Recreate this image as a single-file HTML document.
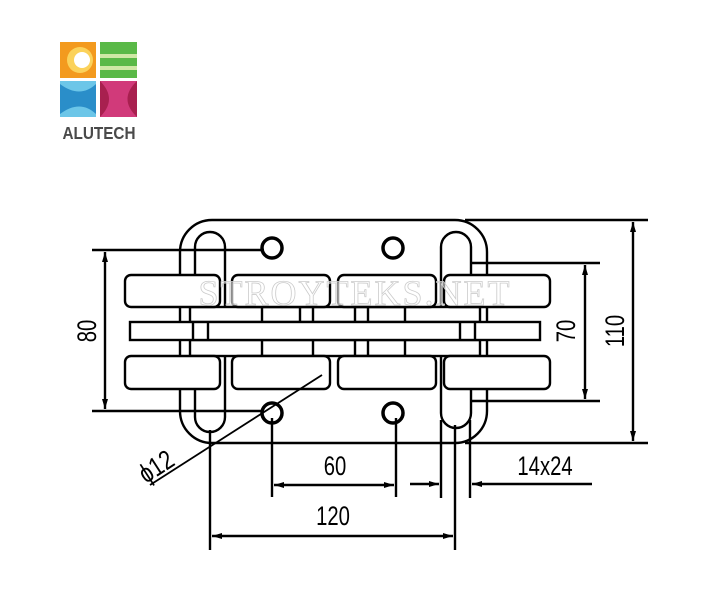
<!DOCTYPE html><html><head><style>body{margin:0;background:#fff}svg{display:block}</style></head><body>
<svg width="710" height="592" viewBox="0 0 710 592" xmlns="http://www.w3.org/2000/svg">
<defs><marker id="a" viewBox="0 0 10 6" refX="10" refY="3" markerWidth="11" markerHeight="6" orient="auto-start-reverse" markerUnits="userSpaceOnUse"><path d="M0,0L10,3L0,6z" fill="#000"/></marker></defs>
<!-- logo -->
<rect x="60" y="42" width="36" height="36" fill="#f39a1e"/>
<circle cx="80" cy="60" r="13" fill="#fbd25a"/><circle cx="82" cy="60" r="8" fill="#fff"/>
<rect x="100" y="42" width="37" height="36" fill="#5ab947"/>
<rect x="100" y="54" width="37" height="4" fill="#cfe8a5"/><rect x="100" y="66" width="37" height="4" fill="#cfe8a5"/>
<rect x="60" y="81" width="36" height="36" fill="#6cc6e8"/>
<path d="M60,84 Q80,99 96,84 L96,114 Q80,99 60,114z" fill="#2a8ec9"/>
<rect x="100" y="81" width="37" height="36" fill="#d13a7a"/>
<path d="M100,81 Q118,99 100,117z M137,81 Q118,99 137,117z" fill="#a8204f"/>
<text x="99" y="139" text-anchor="middle" font-family="Liberation Sans,sans-serif" font-size="18" font-weight="bold" fill="#4a4a4a" transform="translate(99 0) scale(0.85 1) translate(-99 0)">ALUTECH</text>
<g fill="none" stroke="#000" stroke-width="2.4">
<rect x="180" y="220" width="307" height="223" rx="32"/>
<line x1="465" y1="220" x2="648" y2="220"/><line x1="465" y1="443" x2="648" y2="443"/>
<line x1="633" y1="222" x2="633" y2="441" marker-start="url(#a)" marker-end="url(#a)"/>
<line x1="92" y1="250" x2="264" y2="250"/><line x1="92" y1="411" x2="264" y2="411"/>
<line x1="105" y1="252" x2="105" y2="409" marker-start="url(#a)" marker-end="url(#a)"/>
<line x1="470" y1="263" x2="600" y2="263"/><line x1="470" y1="401" x2="600" y2="401"/>
<line x1="585" y1="265" x2="585" y2="399" marker-start="url(#a)" marker-end="url(#a)"/>
<rect x="195" y="232" width="30" height="200" rx="15"/>
<rect x="441" y="232" width="30" height="196" rx="15"/>
<circle cx="272" cy="248" r="10" stroke-width="3.5"/><circle cx="393" cy="248" r="10" stroke-width="3.5"/>
<circle cx="272" cy="413" r="10" stroke-width="3.5"/><circle cx="393" cy="413" r="10" stroke-width="3.5"/>
<rect x="190" y="307" width="290" height="15" fill="#fff"/>
<rect x="190" y="340" width="290" height="16" fill="#fff"/>
<line x1="262" y1="307" x2="262" y2="356"/><line x1="300" y1="307" x2="300" y2="322"/><line x1="313" y1="307" x2="313" y2="356"/><line x1="355" y1="307" x2="355" y2="356"/><line x1="368" y1="307" x2="368" y2="356"/><line x1="405" y1="307" x2="405" y2="356"/>
<rect x="130" y="322" width="410" height="18" fill="#fff"/>
<line x1="193" y1="322" x2="193" y2="340"/><line x1="208" y1="322" x2="208" y2="340"/>
<line x1="460" y1="322" x2="460" y2="340"/><line x1="475" y1="322" x2="475" y2="340"/>
<g fill="#fff">
<rect x="125" y="275" width="95" height="32" rx="6"/><rect x="232" y="275" width="98" height="32" rx="6"/><rect x="338" y="275" width="98" height="32" rx="6"/><rect x="444" y="275" width="106" height="32" rx="6"/>
<rect x="125" y="356" width="95" height="33" rx="6"/><rect x="232" y="356" width="98" height="33" rx="6"/><rect x="338" y="356" width="98" height="33" rx="6"/><rect x="444" y="356" width="106" height="33" rx="6"/>
</g>
<line x1="272" y1="418" x2="272" y2="497"/><line x1="396" y1="418" x2="396" y2="497"/>
<line x1="274" y1="485" x2="394" y2="485" marker-start="url(#a)" marker-end="url(#a)"/>
<line x1="441" y1="420" x2="441" y2="498"/><line x1="470" y1="420" x2="470" y2="498"/>
<line x1="410" y1="484" x2="439" y2="484" marker-end="url(#a)"/>
<line x1="592" y1="484" x2="472" y2="484" marker-end="url(#a)"/>
<line x1="210" y1="430" x2="210" y2="550"/><line x1="455" y1="425" x2="455" y2="550"/>
<line x1="212" y1="536" x2="453" y2="536" marker-start="url(#a)" marker-end="url(#a)"/>
<line x1="150" y1="485" x2="322" y2="375" stroke-width="1.8"/>
</g>
<g font-family="Liberation Sans,sans-serif" font-size="27" fill="#000">
<text transform="translate(96 331) rotate(-90) scale(0.75 1)" text-anchor="middle">80</text>
<text transform="translate(575 331) rotate(-90) scale(0.75 1)" text-anchor="middle">70</text>
<text transform="translate(624 331) rotate(-90) scale(0.75 1)" text-anchor="middle">110</text>
<text transform="translate(335 475) scale(0.75 1)" text-anchor="middle">60</text>
<text transform="translate(545 475) scale(0.75 1)" text-anchor="middle">14x24</text>
<text transform="translate(333 525) scale(0.75 1)" text-anchor="middle">120</text>
<text transform="translate(146 484) rotate(-33) scale(0.8 1)">ϕ12</text>
</g>
<text x="355" y="305" text-anchor="middle" font-family="Liberation Serif,serif" font-size="36" fill="#fff" fill-opacity="0.55" stroke="#ccc" stroke-width="0.8" letter-spacing="2">STROYTEKS.NET</text>
</svg>
</body></html>
